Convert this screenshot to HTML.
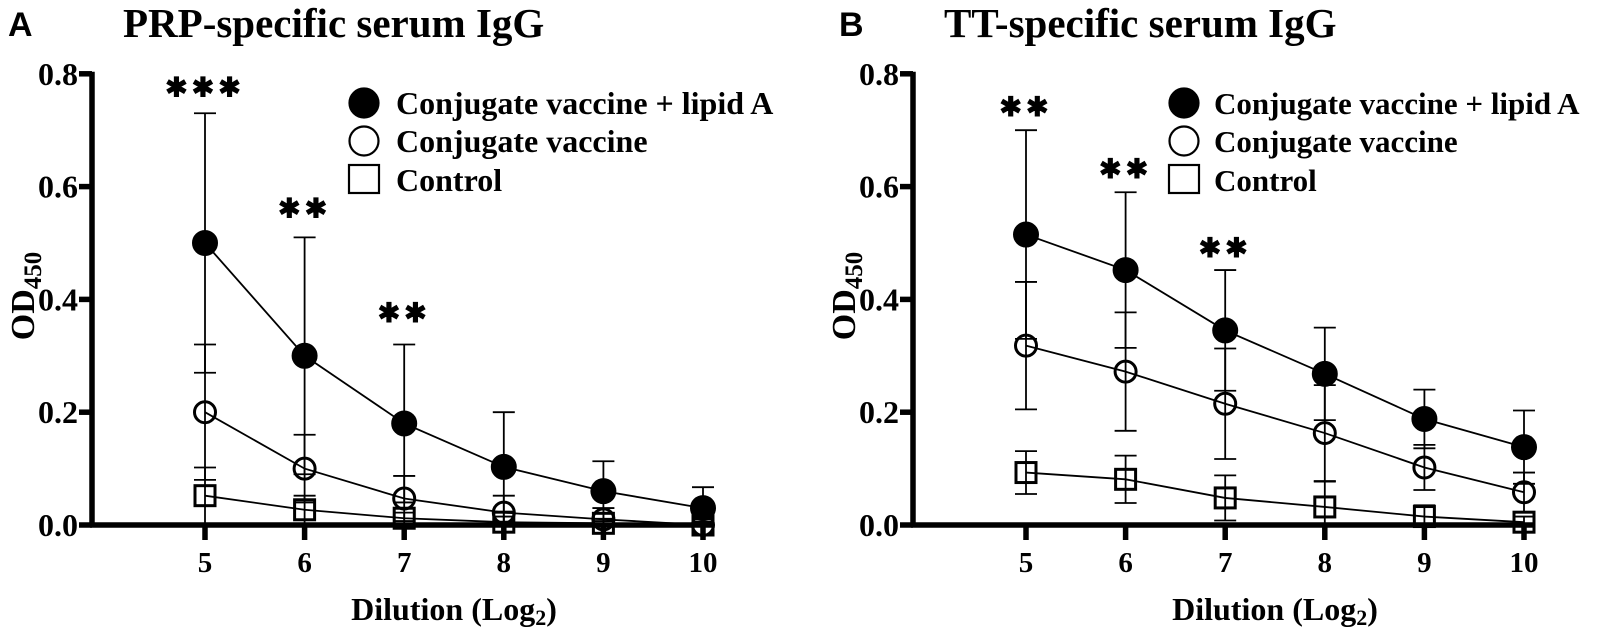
<!DOCTYPE html>
<html><head><meta charset="utf-8"><style>
body{margin:0;background:#fff}
svg text{font-family:"Liberation Serif",serif;font-weight:bold;fill:#000}
</style></head><body>
<svg id="fig" width="1605" height="628" viewBox="0 0 1605 628" xmlns="http://www.w3.org/2000/svg"></svg>
<script>
const categories=[5,6,7,8,9,10];
const yTicks=[0,0.2,0.4,0.6,0.8];
const yTickLabels=["0.0","0.2","0.4","0.6","0.8"];
const seriesNames=["Conjugate vaccine + lipid A","Conjugate vaccine","Control"];
const aLipid=[0.50,0.30,0.18,0.103,0.06,0.03];
const aLipidErr=[0.23,0.21,0.14,0.097,0.053,0.037];
const aConj=[0.20,0.10,0.047,0.022,0.01,0.0];
const aConjErr=[0.12,0.06,0.04,0.03,0.02,0.01];
const aCtrl=[0.052,0.027,0.012,0.005,0.003,0.0];
const aCtrlErr=[0.05,0.025,0.01,0.01,0.008,0.006];
const aStars=["***","**","**"];
const aStarVals=[0.785,0.57,0.385];
const bLipid=[0.515,0.452,0.345,0.268,0.188,0.138];
const bLipidErr=[0.185,0.138,0.107,0.082,0.052,0.065];
const bConj=[0.318,0.272,0.215,0.163,0.102,0.058];
const bConjErr=[0.113,0.105,0.098,0.085,0.04,0.035];
const bCtrl=[0.093,0.081,0.048,0.032,0.015,0.005];
const bCtrlErr=[0.038,0.042,0.04,0.045,0.02,0.01];
const bStars=["**","**","**"];
const bStarVals=[0.75,0.64,0.5];

const NS="http://www.w3.org/2000/svg";
const svg=document.getElementById('fig');
function mk(tag,attrs,parent){const e=document.createElementNS(NS,tag);for(const k in attrs)e.setAttribute(k,attrs[k]);(parent||svg).appendChild(e);return e;}

function panel(cfg){
  const g=mk('g',{});
  
  
  const ax=cfg.axisX, x0=cfg.x5, dx=99.6, y0=525, yh=564;
  const X=v=>x0+(v-5)*dx;
  const Y=v=>y0-v*yh;
  const lt=mk('text',{x:cfg.letterX,y:36,'font-size':34,style:'font-family:"Liberation Sans",sans-serif'},g);lt.textContent=cfg.letter;
  
  const tt=mk('text',{x:cfg.titleX,y:37,'font-size':41},g);tt.textContent=cfg.title;
  
  const ya=mk('line',{x1:ax,y1:Y(0.8)-2,x2:ax,y2:y0+2,stroke:'#000','stroke-width':5.5},g);
  
  const xa=mk('line',{x1:ax-2,y1:y0,x2:X(10)+10,y2:y0,stroke:'#000','stroke-width':5.5},g);
  
  yTicks.forEach((t,i)=>{
    mk('line',{x1:ax-13,y1:Y(t),x2:ax,y2:Y(t),stroke:'#000','stroke-width':5.5},g);
    const l=mk('text',{x:ax-14,y:Y(t)+11,'font-size':32,'text-anchor':'end'},g);l.textContent=yTickLabels[i];
    
  });
  categories.forEach(c=>{
    mk('line',{x1:X(c),y1:y0,x2:X(c),y2:y0+15,stroke:'#000','stroke-width':5.5},g);
    const l=mk('text',{x:X(c),y:572,'font-size':29,'text-anchor':'middle'},g);l.textContent=c;
    
  });
  const yl=mk('text',{x:0,y:0,'font-size':34,'text-anchor':'middle',transform:`translate(${ax-58},296) rotate(-90)`},g);
  yl.innerHTML='OD<tspan font-size="25" dy="7">450</tspan>';
  
  const xl=mk('text',{x:X(7.5),y:620,'font-size':32,'text-anchor':'middle'},g);
  xl.innerHTML='Dilution (Log<tspan font-size="22" dy="5">2</tspan><tspan dy="-5">)</tspan>';
  
  const series=[[cfg.ctrl,cfg.ctrlErr,'sq'],[cfg.conj,cfg.conjErr,'open'],[cfg.lipid,cfg.lipidErr,'fill']];
  series.forEach(([vals,errs,kind])=>{
    const sg=mk('g',{},g);
    
    vals.forEach((v,i)=>{
      const x=X(categories[i]),hi=Y(v+errs[i]),lo=Y(Math.max(0,v-errs[i]));
      mk('line',{x1:x,y1:hi,x2:x,y2:lo,stroke:'#000','stroke-width':1.8},sg);
      mk('line',{x1:x-11,y1:hi,x2:x+11,y2:hi,stroke:'#000','stroke-width':1.8},sg);
      mk('line',{x1:x-11,y1:lo,x2:x+11,y2:lo,stroke:'#000','stroke-width':1.8},sg);
    });
    mk('polyline',{points:vals.map((v,i)=>X(categories[i])+','+Y(v)).join(' '),fill:'none',stroke:'#000','stroke-width':1.8},sg);
    vals.forEach((v,i)=>{
      const x=X(categories[i]),y=Y(v);let m;
      if(kind==='sq')m=mk('rect',{x:x-10,y:y-10,width:20,height:20,fill:'none',stroke:'#000','stroke-width':3},sg);
      else m=mk('circle',{cx:x,cy:y,r:kind==='fill'?11.5:10.5,fill:kind==='fill'?'#000':'none',stroke:'#000','stroke-width':3},sg);
      
      
    });
  });
  cfg.stars.forEach((s,i)=>{
    const t=mk('text',{x:X(categories[i]),y:Y(cfg.starVals[i])+14,'font-size':27,'text-anchor':'middle','letter-spacing':'4'},g);t.textContent=s.replace(/\*/g,'✱');
    
  });
  const lx=cfg.legX, rows=[103,141,180];
  const lg=mk('g',{},g);
  
  ['fill','open','sq'].forEach((k,i)=>{
    const y=rows[i];
    if(k==='sq')mk('rect',{x:lx-15,y:y-15,width:30,height:28,fill:'none',stroke:'#000','stroke-width':2.2},lg);
    else mk('circle',{cx:lx,cy:y,r:14.5,fill:k==='fill'?'#000':'none',stroke:'#000','stroke-width':2.2},lg);
    const t=mk('text',{x:lx+cfg.legGap,y:y+11,'font-size':cfg.legFont},lg);t.textContent=seriesNames[i];
    
  });
}
panel({id:'prp',letter:'A',letterX:8,title:'PRP-specific serum IgG',titleX:123,axisX:92,x5:205,legFont:32,legGap:32,
  lipid:aLipid,lipidErr:aLipidErr,conj:aConj,conjErr:aConjErr,ctrl:aCtrl,ctrlErr:aCtrlErr,stars:aStars,starVals:aStarVals,legX:364});
panel({id:'tt',letter:'B',letterX:839,title:'TT-specific serum IgG',titleX:944,axisX:913,x5:1026,legFont:31,legGap:30,
  lipid:bLipid,lipidErr:bLipidErr,conj:bConj,conjErr:bConjErr,ctrl:bCtrl,ctrlErr:bCtrlErr,stars:bStars,starVals:bStarVals,legX:1184});
</script>
</body></html>
